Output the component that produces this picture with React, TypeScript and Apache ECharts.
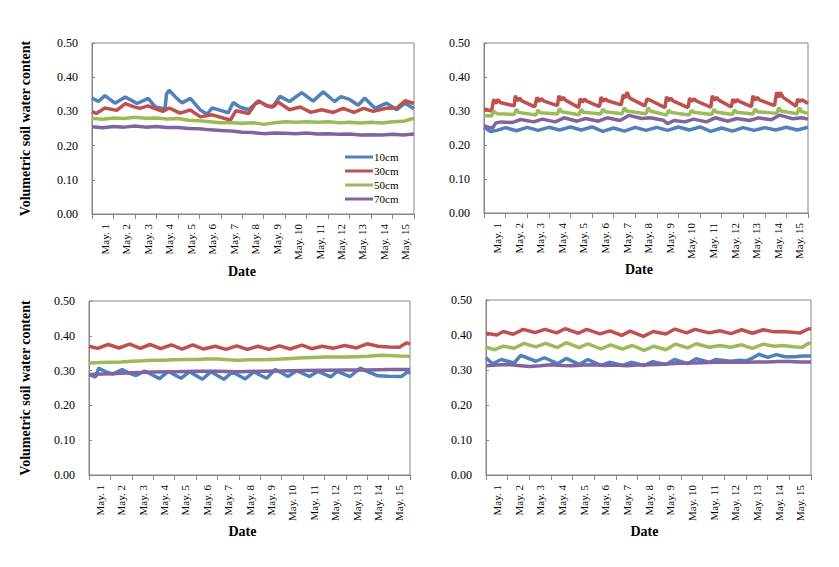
import React, { useEffect, useRef } from "react";
import * as echarts from "echarts";

// ---------- data ----------
const dateLabels = ["May. 1", "May. 2", "May. 3", "May. 4", "May. 5", "May. 6", "May. 7", "May. 8", "May. 9", "May. 10", "May. 11", "May. 12", "May. 13", "May. 14", "May. 15"];
const depths = ["10cm", "30cm", "50cm", "70cm"];
const yTitle = "Volumetric soil water content";
const xTitle = "Date";

// Panel A (top-left): [day, value]
const a10 = [[0,0.339],[0.3,0.329],[0.6,0.346],[1.07,0.324],[1.55,0.342],[1.9,0.330],[2.1,0.323],[2.62,0.338],[2.85,0.320],[3.0,0.312],[3.4,0.307],[3.47,0.350],[3.59,0.362],[3.95,0.338],[4.2,0.325],[4.58,0.338],[5.05,0.304],[5.36,0.292],[5.6,0.310],[6.15,0.300],[6.35,0.296],[6.58,0.326],[6.9,0.312],[7.3,0.305],[7.75,0.331],[8.1,0.318],[8.4,0.312],[8.76,0.344],[9.2,0.329],[9.77,0.355],[10.3,0.330],[10.77,0.357],[11.3,0.329],[11.6,0.343],[12.0,0.335],[12.4,0.318],[12.7,0.339],[13.18,0.309],[13.72,0.324],[14.2,0.305],[14.58,0.324],[15,0.308]];
const a30 = [[0,0.299],[0.2,0.294],[0.6,0.310],[1.15,0.303],[1.55,0.323],[1.93,0.314],[2.24,0.309],[2.6,0.316],[3.0,0.307],[3.3,0.300],[3.6,0.310],[4.1,0.295],[4.58,0.304],[5.05,0.284],[5.6,0.290],[6.15,0.280],[6.46,0.275],[6.7,0.302],[7.3,0.294],[7.6,0.322],[7.83,0.328],[8.2,0.314],[8.5,0.316],[8.65,0.328],[9.2,0.305],[9.7,0.313],[10.2,0.297],[10.7,0.305],[11.24,0.297],[11.7,0.309],[12.2,0.297],[12.65,0.309],[13.1,0.300],[13.7,0.309],[14.2,0.310],[14.58,0.331],[15,0.323]];
const a50 = [[0,0.280],[0.5,0.277],[1,0.281],[1.5,0.279],[2,0.283],[2.5,0.280],[3,0.281],[3.5,0.278],[4,0.279],[4.5,0.274],[5,0.273],[5.5,0.270],[6,0.267],[6.5,0.267],[7,0.265],[7.5,0.267],[8,0.262],[8.5,0.267],[9,0.270],[9.5,0.268],[10,0.270],[10.5,0.268],[11,0.270],[11.5,0.267],[12,0.268],[12.5,0.266],[13,0.268],[13.5,0.266],[14,0.270],[14.5,0.271],[15,0.280]];
const a70 = [[0,0.255],[0.5,0.252],[1,0.256],[1.5,0.254],[2,0.257],[2.5,0.254],[3,0.256],[3.5,0.253],[4,0.253],[4.5,0.250],[5,0.249],[5.5,0.246],[6,0.244],[6.5,0.243],[7,0.239],[7.5,0.238],[8,0.235],[8.5,0.237],[9,0.236],[9.5,0.235],[10,0.237],[10.5,0.234],[11,0.235],[11.5,0.233],[12,0.234],[12.5,0.231],[13,0.232],[13.5,0.231],[14,0.233],[14.5,0.231],[15,0.234]];

// Panel B (top-right)
const b10 = [[0,0.252],[0.3,0.240],[0.6,0.243],[1.0,0.251],[1.5,0.242],[2.0,0.252],[2.5,0.243],[3.0,0.252],[3.5,0.244],[4.0,0.253],[4.5,0.244],[5.0,0.253],[5.5,0.240],[6.0,0.250],[6.5,0.241],[7.0,0.252],[7.5,0.243],[8.0,0.252],[8.5,0.243],[9.0,0.253],[9.5,0.244],[10.0,0.253],[10.5,0.240],[11.0,0.250],[11.5,0.241],[12.0,0.251],[12.5,0.243],[13.0,0.251],[13.5,0.244],[14.0,0.252],[14.5,0.244],[15,0.252]];
const b30 = [[0,0.306],[0.35,0.300],[0.45,0.334],[0.55,0.322],[0.65,0.334],[0.75,0.325],[1.4,0.315],[1.45,0.345],[1.55,0.330],[1.65,0.338],[1.75,0.330],[2.35,0.312],[2.45,0.340],[2.55,0.328],[2.65,0.337],[2.75,0.330],[3.4,0.316],[3.47,0.345],[3.57,0.332],[3.67,0.340],[3.77,0.332],[4.38,0.310],[4.45,0.336],[4.55,0.326],[4.65,0.335],[4.75,0.329],[5.35,0.313],[5.42,0.341],[5.52,0.328],[5.62,0.336],[5.72,0.330],[6.35,0.318],[6.45,0.348],[6.55,0.338],[6.62,0.355],[6.75,0.338],[7.45,0.315],[7.55,0.336],[7.75,0.330],[8.38,0.310],[8.45,0.342],[8.55,0.330],[8.65,0.338],[8.75,0.330],[9.45,0.310],[9.52,0.338],[9.62,0.328],[9.72,0.336],[9.82,0.330],[10.5,0.311],[10.57,0.345],[10.67,0.332],[10.77,0.340],[10.87,0.332],[11.45,0.312],[11.52,0.335],[11.62,0.325],[11.72,0.334],[11.82,0.328],[12.38,0.313],[12.45,0.345],[12.55,0.332],[12.65,0.340],[12.75,0.333],[13.45,0.316],[13.55,0.355],[13.65,0.340],[13.72,0.355],[13.85,0.340],[14.45,0.314],[14.52,0.335],[14.62,0.328],[14.72,0.333],[15,0.322]];
const b50 = [[0,0.287],[0.35,0.285],[0.45,0.300],[0.6,0.292],[1.4,0.290],[1.5,0.305],[1.6,0.296],[2.4,0.288],[2.5,0.303],[2.6,0.295],[3.4,0.291],[3.5,0.307],[3.6,0.298],[4.4,0.289],[4.5,0.305],[4.6,0.296],[5.4,0.291],[5.5,0.305],[5.6,0.298],[6.4,0.292],[6.5,0.310],[6.6,0.300],[7.5,0.292],[7.6,0.310],[7.7,0.300],[8.45,0.288],[8.55,0.302],[8.65,0.296],[9.5,0.288],[9.6,0.302],[9.7,0.296],[10.55,0.290],[10.65,0.305],[10.75,0.297],[11.5,0.290],[11.6,0.303],[11.7,0.296],[12.45,0.291],[12.55,0.305],[12.65,0.298],[13.55,0.293],[13.65,0.310],[13.75,0.300],[14.5,0.292],[14.6,0.310],[14.7,0.298],[15,0.293]];
const b70 = [[0,0.257],[0.2,0.252],[0.4,0.250],[0.55,0.265],[0.8,0.268],[1.3,0.266],[1.7,0.275],[2.3,0.268],[2.7,0.276],[3.3,0.268],[3.7,0.280],[4.3,0.270],[4.7,0.278],[5.3,0.270],[5.7,0.280],[6.3,0.272],[6.7,0.287],[7.3,0.278],[7.7,0.280],[8.3,0.273],[8.5,0.263],[8.8,0.272],[9.3,0.268],[9.7,0.276],[10.3,0.268],[10.7,0.280],[11.3,0.270],[11.7,0.278],[12.3,0.272],[12.7,0.280],[13.3,0.274],[13.7,0.288],[14.3,0.277],[14.7,0.280],[15,0.276]];

// Panel C (bottom-left)
const c10 = [[0,0.289],[0.3,0.281],[0.45,0.307],[0.8,0.296],[1.1,0.290],[1.55,0.303],[1.9,0.292],[2.2,0.286],[2.6,0.299],[3.3,0.277],[3.7,0.298],[4.3,0.278],[4.7,0.297],[5.3,0.275],[5.7,0.297],[6.3,0.275],[6.7,0.296],[7.3,0.276],[7.7,0.296],[8.3,0.278],[8.7,0.303],[9.3,0.283],[9.7,0.300],[10.3,0.283],[10.7,0.298],[11.3,0.282],[11.6,0.298],[12.2,0.283],[12.68,0.307],[13.1,0.295],[13.5,0.285],[14.0,0.284],[14.6,0.283],[14.9,0.297],[15,0.292]];
const c30 = [[0,0.370],[0.4,0.364],[0.9,0.375],[1.4,0.365],[1.9,0.376],[2.4,0.364],[2.85,0.375],[3.35,0.363],[3.85,0.374],[4.35,0.362],[4.85,0.374],[5.35,0.362],[5.9,0.370],[6.4,0.361],[6.9,0.371],[7.4,0.361],[7.9,0.370],[8.4,0.361],[8.9,0.371],[9.4,0.362],[9.95,0.373],[10.4,0.363],[10.9,0.370],[11.4,0.364],[11.95,0.372],[12.5,0.365],[13.0,0.377],[13.5,0.370],[14.0,0.368],[14.5,0.367],[14.85,0.380],[15,0.376]];
const c50 = [[0,0.322],[0.5,0.323],[1,0.324],[1.5,0.325],[2,0.327],[2.5,0.328],[3,0.330],[3.5,0.330],[4,0.331],[4.5,0.332],[5,0.332],[5.5,0.333],[6,0.333],[6.5,0.331],[7,0.330],[7.5,0.331],[8,0.331],[8.5,0.332],[9,0.333],[9.5,0.335],[10,0.337],[10.5,0.338],[11,0.339],[11.5,0.339],[12,0.339],[12.5,0.340],[13,0.341],[13.7,0.344],[14.5,0.342],[15,0.341]];
const c70 = [[0,0.289],[1,0.291],[2,0.294],[3,0.296],[4,0.297],[5,0.298],[6,0.298],[7,0.297],[8,0.298],[9,0.299],[10,0.300],[11,0.301],[12,0.302],[13,0.302],[14,0.303],[15,0.303]];

// Panel D (bottom-right)
const d10 = [[0,0.335],[0.3,0.318],[0.7,0.330],[1.3,0.320],[1.6,0.342],[2.3,0.325],[2.7,0.335],[3.3,0.318],[3.7,0.333],[4.3,0.316],[4.7,0.330],[5.3,0.313],[5.7,0.322],[6.3,0.313],[6.7,0.322],[7.3,0.313],[7.7,0.324],[8.3,0.316],[8.7,0.330],[9.3,0.318],[9.7,0.332],[10.3,0.322],[10.6,0.330],[11.3,0.325],[11.7,0.328],[12.0,0.326],[12.3,0.334],[12.6,0.345],[13.0,0.336],[13.4,0.344],[13.8,0.338],[14.3,0.338],[14.6,0.340],[15,0.340]];
const d30 = [[0,0.405],[0.5,0.400],[0.8,0.410],[1.26,0.402],[1.72,0.416],[2.26,0.407],[2.72,0.416],[3.26,0.406],[3.65,0.418],[4.26,0.405],[4.65,0.416],[5.26,0.403],[5.72,0.412],[6.26,0.399],[6.65,0.411],[7.26,0.396],[7.72,0.410],[8.3,0.403],[8.72,0.417],[9.26,0.406],[9.65,0.416],[10.3,0.406],[10.8,0.412],[11.3,0.404],[11.8,0.415],[12.3,0.405],[12.8,0.415],[13.3,0.409],[13.7,0.410],[14.26,0.407],[14.5,0.406],[14.9,0.418],[15,0.416]];
const d50 = [[0,0.365],[0.4,0.358],[0.8,0.368],[1.3,0.362],[1.75,0.376],[2.3,0.366],[2.75,0.376],[3.3,0.364],[3.7,0.378],[4.3,0.364],[4.7,0.375],[5.3,0.360],[5.75,0.372],[6.3,0.360],[6.75,0.370],[7.3,0.356],[7.75,0.368],[8.3,0.358],[8.75,0.374],[9.3,0.363],[9.7,0.375],[10.3,0.365],[10.8,0.370],[11.3,0.365],[11.8,0.372],[12.3,0.362],[12.8,0.374],[13.3,0.368],[13.7,0.370],[14.3,0.366],[14.6,0.365],[14.9,0.377],[15,0.375]];
const d70 = [[0,0.312],[0.5,0.314],[1,0.316],[1.5,0.313],[2,0.310],[2.5,0.312],[3,0.315],[3.5,0.313],[4,0.312],[4.5,0.314],[5,0.315],[5.5,0.313],[6,0.314],[6.5,0.312],[7,0.314],[7.5,0.315],[8,0.316],[8.5,0.318],[9,0.319],[9.5,0.320],[10,0.321],[10.5,0.322],[11,0.322],[11.5,0.323],[12,0.322],[12.5,0.323],[13,0.323],[13.5,0.324],[14,0.324],[14.5,0.323],[15,0.323]];

// ---------- layout / style ----------
const colors = ["#4F81BD", "#C0504D", "#9BBB59", "#8064A2"];
const FONT = "'Liberation Serif', 'Times New Roman', serif";
const AXIS = "#868686";

const panels = [
  { left: 92, top: 43, width: 322, height: 171, yName: true, nameGap: 60, dateGap: 50, dateShift: 11, labelAt: 6, series: [a10, a30, a50, a70] },
  { left: 484, top: 43, width: 324, height: 170, yName: false, nameGap: 60, dateGap: 48, dateShift: 7, labelAt: 6, series: [b10, b30, b50, b70] },
  { left: 89, top: 301, width: 321, height: 174, yName: true, nameGap: 57, dateGap: 46, dateShift: 7, labelAt: 5, series: [c10, c30, c50, c70] },
  { left: 486, top: 300, width: 325, height: 175, yName: false, nameGap: 60, dateGap: 49, dateShift: 4, labelAt: 5, series: [d10, d30, d50, d70] },
];

const STEPS = 150; // tenth-of-day positions for label placement

function buildOption() {
  const grid: any[] = [];
  const xAxis: any[] = [];
  const yAxis: any[] = [];
  const series: any[] = [];
  panels.forEach((p, i) => {
    grid.push({ left: p.left, top: p.top, width: p.width, height: p.height, show: true, borderColor: AXIS, borderWidth: 1, backgroundColor: "transparent" });
    xAxis.push({
      type: "value", gridIndex: i, min: 0, max: 15, interval: 1,
      axisLine: { show: true, lineStyle: { color: AXIS, width: 1 } },
      axisTick: { show: true, inside: false, length: 5, lineStyle: { color: AXIS } },
      axisLabel: { show: false }, splitLine: { show: false },
    });
    const cats = Array.from({ length: STEPS + 1 }, (_, k) => String(k));
    xAxis.push({
      type: "category", gridIndex: i, data: cats, boundaryGap: false, position: "bottom",
      axisLine: { show: false }, axisTick: { show: false }, splitLine: { show: false },
      axisLabel: {
        interval: (idx: number) => idx % 10 === p.labelAt && idx < STEPS,
        formatter: (_v: string, idx: number) => (idx % 10 === p.labelAt && idx < STEPS ? dateLabels[Math.floor(idx / 10)] : ""),
        rotate: 90, margin: 10, fontFamily: FONT, fontSize: 11, color: "#000",
      },
      name: xTitle, nameLocation: "middle", nameGap: p.dateGap,
      nameTextStyle: { fontFamily: FONT, fontSize: 14, fontWeight: "bold", color: "#000", padding: [0, p.dateShift * 2, 0, 0] },
    });
    yAxis.push({
      type: "value", gridIndex: i, min: 0, max: 0.5, interval: 0.1,
      axisLine: { show: true, lineStyle: { color: AXIS, width: 1 } },
      axisTick: { show: true, inside: true, length: 3, lineStyle: { color: AXIS } },
      splitLine: { show: false },
      axisLabel: { formatter: (v: number) => v.toFixed(2), fontFamily: FONT, fontSize: 12, color: "#000", margin: 14 },
      name: p.yName ? yTitle : "", nameLocation: "middle", nameGap: p.nameGap,
      nameTextStyle: { fontFamily: FONT, fontSize: 14, fontWeight: "bold", color: "#000" },
    });
    p.series.forEach((d, j) => {
      series.push({
        type: "line", name: depths[j], xAxisIndex: i * 2, yAxisIndex: i, data: d,
        symbol: "none", smooth: false,
        lineStyle: { color: colors[j], width: 3.5 }, itemStyle: { color: colors[j] },
      });
    });
  });
  return {
    animation: false,
    backgroundColor: "#fff",
    grid, xAxis, yAxis, series,
    legend: {
      data: depths, orient: "vertical", left: 345, top: 151, padding: 0, itemGap: 2,
      icon: "rect", itemWidth: 28, itemHeight: 3,
      textStyle: { fontFamily: FONT, fontSize: 11, color: "#000", lineHeight: 12, padding: [0, 0, 0, -4] },
    },
  };
}

export default function App() {
  const ref = useRef<HTMLDivElement>(null);
  useEffect(() => {
    if (!ref.current) return;
    const chart = echarts.init(ref.current, undefined, { renderer: "svg" });
    chart.setOption(buildOption() as any);
    return () => chart.dispose();
  }, []);
  return <div ref={ref} style={{ position: "fixed", left: 0, top: 0, width: 839, height: 567, background: "#fff" }} />;
}
